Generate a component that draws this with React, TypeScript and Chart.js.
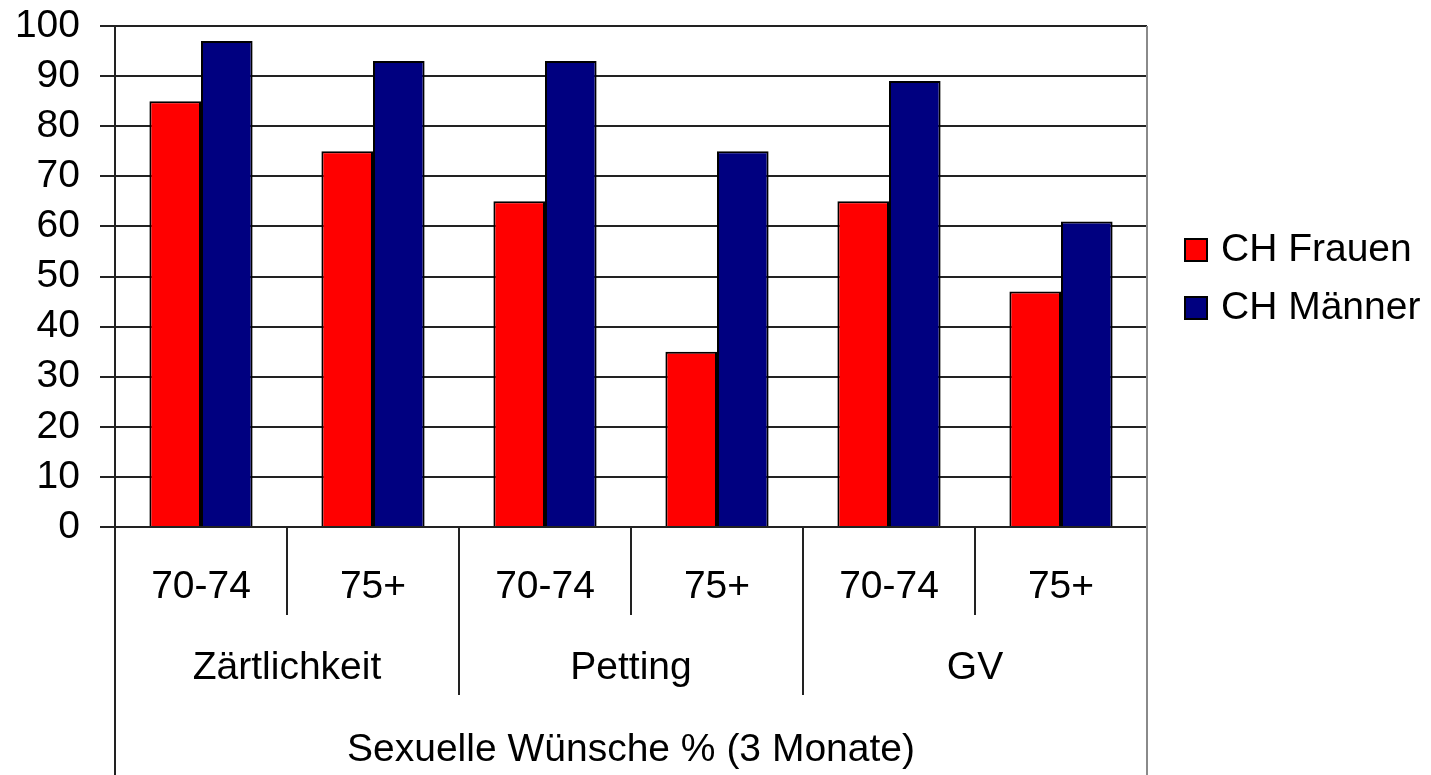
import React, { useEffect, useRef } from "react";
import { Chart, registerables } from "chart.js";

Chart.register(...registerables);

const subLabels = ["70-74", "75+", "70-74", "75+", "70-74", "75+"];
const groupLabels = ["Zärtlichkeit", "Petting", "GV"];
const axisTitle = "Sexuelle Wünsche % (3 Monate)";
const seriesNames = ["CH Frauen", "CH Männer"];
const seriesColors = ["#ff0000", "#000080"];
const frauen = [85, 75, 65, 35, 65, 47];
const maenner = [97, 93, 93, 75, 89, 61];
const yMin = 0;
const yMax = 100;
const yStep = 10;

const FONT = '"Liberation Sans", Arial, Helvetica, sans-serif';
const FONT_SIZE = 39;

const multiLevelPlugin = {
  id: "multiLevel",
  afterDraw(chart: any) {
    const ctx = chart.ctx as CanvasRenderingContext2D;
    const xs = chart.scales.x;
    const area = chart.chartArea;
    const H = chart.height;
    const n = subLabels.length;
    const bottom = area.bottom;
    ctx.save();
    ctx.lineWidth = 2;
    ctx.strokeStyle = "#222";
    for (let i = 0; i < n - 1; i++) {
      const bx = (xs.getPixelForValue(i) + xs.getPixelForValue(i + 1)) / 2;
      const isGroup = (i + 1) % 2 === 0;
      ctx.beginPath();
      ctx.moveTo(bx, bottom);
      ctx.lineTo(bx, isGroup ? bottom + 168 : bottom + 88);
      ctx.stroke();
    }
    ctx.beginPath();
    ctx.moveTo(area.left, bottom);
    ctx.lineTo(area.left, H);
    ctx.stroke();
    ctx.strokeStyle = "#8a8a8a";
    ctx.beginPath();
    ctx.moveTo(area.right, area.top);
    ctx.lineTo(area.right, H);
    ctx.stroke();

    ctx.fillStyle = "#000";
    ctx.font = `${FONT_SIZE}px ${FONT}`;
    ctx.textAlign = "center";
    ctx.textBaseline = "middle";
    for (let i = 0; i < n; i++) {
      ctx.fillText(subLabels[i], xs.getPixelForValue(i), bottom + 60);
    }
    for (let g = 0; g < groupLabels.length; g++) {
      const cx = (xs.getPixelForValue(2 * g) + xs.getPixelForValue(2 * g + 1)) / 2;
      ctx.fillText(groupLabels[g], cx, bottom + 141);
    }
    ctx.fillText(axisTitle, (area.left + area.right) / 2, bottom + 223);

    const lx = 1185;
    const ly = [250, 308];
    ctx.textAlign = "left";
    for (let s = 0; s < seriesNames.length; s++) {
      ctx.fillStyle = seriesColors[s];
      ctx.fillRect(lx, ly[s] - 11, 22, 22);
      ctx.strokeStyle = "#000";
      ctx.lineWidth = 2;
      ctx.strokeRect(lx, ly[s] - 11, 22, 22);
      ctx.fillStyle = "#000";
      ctx.fillText(seriesNames[s], lx + 36, ly[s]);
    }
    ctx.restore();
  },
};

export default function App() {
  const ref = useRef<HTMLCanvasElement | null>(null);
  useEffect(() => {
    if (!ref.current) return;
    const chart = new Chart(ref.current, {
      type: "bar",
      data: {
        labels: subLabels,
        datasets: [
          {
            label: seriesNames[0],
            data: frauen,
            backgroundColor: seriesColors[0],
            borderColor: "#000",
            borderWidth: 2,
            categoryPercentage: 0.6,
            barPercentage: 1.0,
          },
          {
            label: seriesNames[1],
            data: maenner,
            backgroundColor: seriesColors[1],
            borderColor: "#000",
            borderWidth: 2,
            categoryPercentage: 0.6,
            barPercentage: 1.0,
          },
        ],
      },
      options: {
        responsive: false,
        animation: false,
        layout: { padding: { left: 0, top: 26, right: 284, bottom: 248 } },
        plugins: {
          legend: { display: false },
          tooltip: { enabled: false },
          title: { display: false },
        },
        scales: {
          x: {
            display: false,
          },
          y: {
            min: yMin,
            max: yMax,
            ticks: {
              stepSize: yStep,
              color: "#000",
              padding: 20,
              font: { family: FONT, size: FONT_SIZE },
            },
            grid: {
              color: "#222",
              lineWidth: 2,
              tickLength: 15,
              drawTicks: true,
            },
            border: { display: true, color: "#222", width: 2 },
            afterFit: (s: any) => {
              s.width = 115;
              s.paddingTop = 0;
              s.paddingBottom = 0;
            },
          },
        },
      },
      plugins: [multiLevelPlugin],
    });
    return () => chart.destroy();
  }, []);
  return (
    <div style={{ position: "absolute", left: 0, top: 0, width: 1431, height: 775, background: "#fff" }}>
      <canvas ref={ref} width={1431} height={775} style={{ display: "block" }} />
    </div>
  );
}
